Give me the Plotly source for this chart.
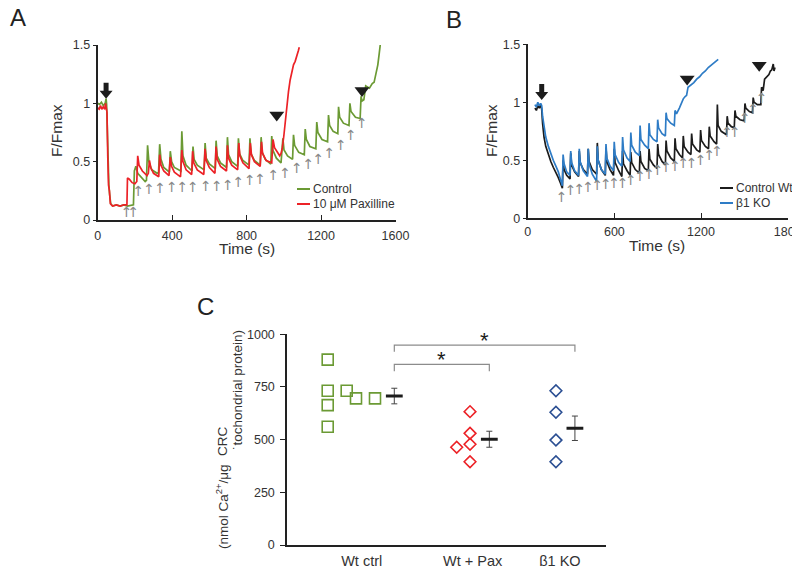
import plotly.graph_objects as go

# ---------------- DATA ----------------
# Panel A: Control (green) trace
A_CTRL_T = [0, 10, 20, 30, 40, 45, 48, 52, 57, 60, 64, 70, 80, 100, 120, 140, 160, 185, 192,
            197, 205, 215, 235, 255, 262,
            268, 275, 290, 320, 327, 333, 340, 355, 385, 390, 397, 412, 447,
            452, 458, 475, 507, 512, 518, 535, 572, 577, 583, 600, 632,
            636, 642, 660, 692, 697, 703, 720, 752, 756, 762, 780, 813,
            818, 824, 842, 873, 878, 884, 900, 930, 935, 941, 960, 985,
            995, 1001, 1020, 1047, 1052, 1058, 1080, 1110, 1115, 1121, 1140, 1172,
            1177, 1183, 1205, 1235, 1240, 1246, 1265, 1290, 1294, 1300, 1320, 1350,
            1355, 1361, 1385, 1410, 1415, 1420, 1430, 1435, 1440, 1460, 1475, 1485,
            1495, 1505, 1512, 1518]
A_CTRL_V = [1.00, 0.99, 1.01, 0.98, 1.00, 1.04, 0.99, 0.75, 0.35, 0.30, 0.22, 0.14, 0.12, 0.13, 0.12, 0.13, 0.12, 0.13, 0.13,
            0.42, 0.46, 0.40, 0.36, 0.33, 0.34,
            0.64, 0.50, 0.43, 0.40, 0.41, 0.65, 0.52, 0.45, 0.41, 0.59, 0.50, 0.45, 0.42,
            0.76, 0.55, 0.47, 0.42, 0.63, 0.52, 0.47, 0.43, 0.66, 0.53, 0.48, 0.44,
            0.68, 0.55, 0.49, 0.45, 0.71, 0.56, 0.50, 0.46, 0.70, 0.57, 0.51, 0.47,
            0.70, 0.57, 0.51, 0.47, 0.71, 0.58, 0.52, 0.48, 0.72, 0.60, 0.53, 0.49,
            0.70, 0.60, 0.55, 0.52, 0.73, 0.64, 0.58, 0.56, 0.78, 0.69, 0.63, 0.61,
            0.84, 0.75, 0.69, 0.67, 0.90, 0.81, 0.76, 0.74, 0.97, 0.88, 0.83, 0.81,
            1.00, 0.93, 0.88, 0.87, 1.06, 1.02, 1.03, 1.10, 1.15, 1.13, 1.17, 1.18,
            1.25, 1.33, 1.42, 1.50]

# Panel A: 10 uM Paxilline (red) trace
A_PAX_T = [0, 8, 15, 22, 30, 38, 42, 46, 50, 54, 58, 63, 68, 80, 100, 120, 140, 157,
           160, 170, 185, 200, 210,
           215, 222, 240, 265, 272, 278, 285, 300, 328, 333, 340, 355, 383,
           390, 397, 412, 445, 452, 458, 475, 505, 510, 516, 535, 570,
           577, 583, 600, 630, 636, 642, 660, 692, 697, 703, 720, 752,
           758, 764, 780, 813, 820, 826, 842, 873, 880, 886, 905, 935,
           942, 950, 965, 978, 985, 992, 1000, 1008, 1016, 1025, 1034, 1043,
           1052, 1061, 1070, 1078, 1083]
A_PAX_V = [0.96, 0.95, 0.98, 0.95, 0.97, 0.95, 1.00, 0.96, 0.92, 0.55, 0.30, 0.25, 0.14, 0.12, 0.13, 0.12, 0.13, 0.13,
           0.36, 0.35, 0.32, 0.31, 0.33,
           0.55, 0.47, 0.42, 0.38, 0.40, 0.51, 0.45, 0.40, 0.37, 0.56, 0.47, 0.42, 0.38,
           0.54, 0.46, 0.41, 0.37, 0.60, 0.50, 0.43, 0.39, 0.59, 0.49, 0.43, 0.39,
           0.61, 0.51, 0.45, 0.40, 0.63, 0.52, 0.46, 0.42, 0.64, 0.53, 0.47, 0.43,
           0.66, 0.55, 0.49, 0.44, 0.66, 0.56, 0.50, 0.46, 0.67, 0.57, 0.51, 0.49,
           0.69, 0.62, 0.58, 0.55, 0.57, 0.62, 0.72, 0.85, 0.98, 1.10, 1.20, 1.28,
           1.33, 1.36, 1.40, 1.45, 1.48]

A_ARROW_T = [156, 192, 218, 276, 335, 398, 455, 511, 581, 640, 699, 756, 818, 873, 944, 1007,
             1070, 1132, 1186, 1245, 1306, 1360, 1420]
A_ARROW_V = [0.06, 0.06, 0.24, 0.25, 0.26, 0.27, 0.27, 0.27, 0.28, 0.28, 0.29, 0.31, 0.33, 0.34, 0.37, 0.39,
             0.43, 0.47, 0.51, 0.56, 0.63, 0.72, 0.82]
A_TRI_T = [962, 1420]
A_TRI_V = [0.90, 1.11]
A_ADD_T = [45]
A_ADD_V = [1.04]

# Panel B: Control Wt (black) trace
B_WT_T = [50, 60, 70, 80, 90, 97, 103, 113, 125, 143, 160, 177, 195, 212, 228, 240,
          245, 252, 270, 293, 298, 304, 325, 352, 357, 363, 385, 414,
          419, 425, 447, 477, 482, 488, 510, 537, 542, 548, 570, 594,
          599, 605, 630, 652, 657, 663, 688, 709, 714, 720, 745, 773,
          778, 784, 810, 835, 840, 846, 870, 895, 900, 906, 930, 953,
          958, 964, 990, 1015, 1020, 1026, 1050, 1072, 1077, 1083, 1110, 1130,
          1135, 1141, 1170, 1192, 1197, 1203, 1230, 1252, 1257, 1263, 1290, 1308,
          1313, 1318, 1340, 1376, 1381, 1387, 1410, 1430, 1435, 1441, 1470, 1499,
          1504, 1510, 1535, 1556, 1561, 1567, 1590, 1614, 1619, 1630, 1640, 1655,
          1670, 1680, 1690, 1700, 1705, 1712]
B_WT_V = [0.95, 0.93, 0.97, 0.95, 0.98, 0.94, 0.82, 0.70, 0.62, 0.55, 0.49, 0.44, 0.40, 0.35, 0.30, 0.26,
          0.50, 0.42, 0.37, 0.34, 0.56, 0.46, 0.40, 0.36, 0.58, 0.48, 0.42, 0.38,
          0.60, 0.49, 0.42, 0.38, 0.65, 0.50, 0.42, 0.37, 0.61, 0.49, 0.42, 0.37,
          0.60, 0.48, 0.41, 0.36, 0.58, 0.47, 0.41, 0.37, 0.57, 0.48, 0.42, 0.39,
          0.58, 0.49, 0.43, 0.41, 0.60, 0.51, 0.46, 0.43, 0.64, 0.55, 0.49, 0.46,
          0.67, 0.58, 0.52, 0.49, 0.69, 0.60, 0.55, 0.52, 0.71, 0.62, 0.57, 0.55,
          0.73, 0.64, 0.59, 0.57, 0.76, 0.67, 0.62, 0.60, 0.79, 0.71, 0.66, 0.64,
          0.98, 0.80, 0.75, 0.72, 0.88, 0.82, 0.79, 0.78, 0.93, 0.88, 0.85, 0.84,
          0.99, 0.95, 0.92, 0.91, 1.04, 1.00, 0.98, 0.98, 1.13, 1.10, 1.20, 1.22,
          1.24, 1.27, 1.28, 1.33, 1.27, 1.30]

# Panel B: beta1 KO (blue) trace
B_KO_T = [50, 60, 70, 80, 90, 97, 103, 113, 125, 143, 160, 177, 195, 212, 228, 240,
          245, 252, 270, 293, 298, 304, 325, 352, 357, 363, 385, 414,
          419, 425, 447, 477, 482, 488, 510, 537, 542, 548, 570, 594,
          599, 605, 630, 652, 657, 663, 688, 709, 714, 720, 745, 773,
          778, 784, 810, 835, 840, 846, 870, 895, 900, 906, 930, 953,
          958, 964, 990, 1015, 1020, 1030, 1050, 1072, 1077, 1090, 1100, 1110,
          1130, 1150, 1170, 1190, 1210, 1230, 1250, 1270, 1290, 1305, 1319]
B_KO_V = [0.98, 0.96, 1.00, 0.97, 0.99, 0.97, 0.88, 0.78, 0.70, 0.62, 0.55, 0.50, 0.45, 0.40, 0.33, 0.28,
          0.55, 0.47, 0.40, 0.37, 0.58, 0.48, 0.41, 0.37, 0.60, 0.49, 0.41, 0.36,
          0.60, 0.47, 0.38, 0.32, 0.62, 0.50, 0.42, 0.38, 0.64, 0.52, 0.45, 0.41,
          0.66, 0.55, 0.48, 0.45, 0.70, 0.59, 0.52, 0.49, 0.74, 0.63, 0.57, 0.54,
          0.80, 0.68, 0.63, 0.60, 0.82, 0.72, 0.68, 0.66, 0.85, 0.78, 0.73, 0.71,
          0.91, 0.86, 0.82, 0.80, 0.93, 0.90, 0.95, 1.02, 1.03, 1.05, 1.06, 1.13,
          1.15, 1.17, 1.20, 1.22, 1.25, 1.27, 1.30, 1.32, 1.34, 1.35, 1.37]

B_ARROW_T = [235, 298, 357, 419, 482, 542, 599, 657, 714, 778, 840, 900, 958, 1020,
             1077, 1135, 1197, 1257, 1312, 1381, 1435, 1504, 1561, 1619]
B_ARROW_V = [0.17, 0.23, 0.24, 0.26, 0.27, 0.28, 0.29, 0.29, 0.32, 0.35, 0.37, 0.40, 0.43, 0.44,
             0.46, 0.46, 0.49, 0.53, 0.57, 0.73, 0.73, 0.85, 0.93, 1.02]
B_TRI_T = [1104, 1603]
B_TRI_V = [1.20, 1.32]
B_ADD_T = [97]
B_ADD_V = [1.02]

# Panel C: CRC dot plot
C_GROUPS = ["Wt ctrl", "Wt + Pax", "β1 KO"]
C_GROUP_POS = [1.0, 2.0, 2.786]
C_WT_VALUES = [880, 732, 664, 561, 732, 696, 696]
C_WT_OFFSET = [-0.306, -0.306, -0.306, -0.306, -0.135, -0.051, 0.120]
C_PAX_VALUES = [464, 633, 530, 478, 395]
C_PAX_OFFSET = [-0.144, -0.024, -0.024, -0.024, -0.024]
C_KO_VALUES = [732, 630, 498, 395]
C_KO_OFFSET = [-0.036, -0.036, -0.036, -0.036]
C_MEANS = [707, 502, 554]
C_SEM = [37, 38, 58]
C_MEAN_OFFSET = [0.294, 0.150, 0.135]
C_SIG_PAIRS = [(0, 1), (0, 2)]
C_SIG_Y = [857, 949]
C_YTICKS = [0, 250, 500, 750, 1000]

# ---------------- STYLE ----------------
GREEN = "#6b9a34"
RED = "#ec2227"
BLACK = "#1c1c1c"
BLUE = "#2e7cc6"
NAVY = "#2b4f93"
GRAY = "#8a8a8a"
FONT = "Liberation Sans, Arial, sans-serif"
TXT = "#333333"
LW = 1.7

W, H = 800, 566
PAGE = 8  # the page body margin shifts the figure; compensate in layout


def fx(x):
    return (x - PAGE) / W


def fy(y):
    return 1 - (y - PAGE) / H


fig = go.Figure()

# Panel A
fig.add_trace(go.Scatter(x=A_CTRL_T, y=A_CTRL_V, mode="lines", line=dict(color=GREEN, width=LW),
                         xaxis="x", yaxis="y", showlegend=False))
fig.add_trace(go.Scatter(x=A_PAX_T, y=A_PAX_V, mode="lines", line=dict(color=RED, width=LW),
                         xaxis="x", yaxis="y", showlegend=False))
fig.add_trace(go.Scatter(x=A_ARROW_T, y=A_ARROW_V, mode="text", text=["↑"] * len(A_ARROW_T),
                         textfont=dict(color=GRAY, size=14, family="DejaVu Sans"),
                         xaxis="x", yaxis="y", showlegend=False))
fig.add_trace(go.Scatter(x=A_TRI_T, y=A_TRI_V, mode="markers",
                         marker=dict(symbol="triangle-down", size=13, color=BLACK),
                         xaxis="x", yaxis="y", showlegend=False))

# Panel B
fig.add_trace(go.Scatter(x=B_WT_T, y=B_WT_V, mode="lines", line=dict(color=BLACK, width=LW),
                         xaxis="x2", yaxis="y2", showlegend=False))
fig.add_trace(go.Scatter(x=B_KO_T, y=B_KO_V, mode="lines", line=dict(color=BLUE, width=LW),
                         xaxis="x2", yaxis="y2", showlegend=False))
fig.add_trace(go.Scatter(x=B_ARROW_T, y=B_ARROW_V, mode="text", text=["↑"] * len(B_ARROW_T),
                         textfont=dict(color=GRAY, size=14, family="DejaVu Sans"),
                         xaxis="x2", yaxis="y2", showlegend=False))
fig.add_trace(go.Scatter(x=B_TRI_T, y=B_TRI_V, mode="markers",
                         marker=dict(symbol="triangle-down", size=13, color=BLACK),
                         xaxis="x2", yaxis="y2", showlegend=False))

# Panel C
def xs(gi, offs):
    return [C_GROUP_POS[gi] + o for o in offs]

fig.add_trace(go.Scatter(x=xs(0, C_WT_OFFSET), y=C_WT_VALUES, mode="markers",
                         marker=dict(symbol="square-open", size=11, color=GREEN, line=dict(width=1.6)),
                         xaxis="x3", yaxis="y3", showlegend=False))
fig.add_trace(go.Scatter(x=xs(1, C_PAX_OFFSET), y=C_PAX_VALUES, mode="markers",
                         marker=dict(symbol="diamond-open", size=9, color=RED, line=dict(width=1.6)),
                         xaxis="x3", yaxis="y3", showlegend=False))
fig.add_trace(go.Scatter(x=xs(2, C_KO_OFFSET), y=C_KO_VALUES, mode="markers",
                         marker=dict(symbol="diamond-open", size=9, color=NAVY, line=dict(width=1.6)),
                         xaxis="x3", yaxis="y3", showlegend=False))
mean_x = [C_GROUP_POS[i] + C_MEAN_OFFSET[i] for i in range(3)]
fig.add_trace(go.Scatter(x=mean_x, y=C_MEANS, mode="markers",
                         marker=dict(symbol="line-ew", size=12, color=BLACK, line=dict(width=3, color=BLACK)),
                         error_y=dict(type="data", array=C_SEM, color="#444444", thickness=1, width=3),
                         xaxis="x3", yaxis="y3", showlegend=False))

shapes = []
annotations = []
for (i, j), yb in zip(C_SIG_PAIRS, C_SIG_Y):
    x0, x1 = mean_x[i], mean_x[j]
    shapes.append(dict(type="path", xref="x3", yref="y3",
                       path=f"M {x0},{yb-32} L {x0},{yb} L {x1},{yb} L {x1},{yb-32}",
                       line=dict(color="#8c8c8c", width=1.2)))
    annotations.append(dict(x=(x0 + x1) / 2, y=yb, xref="x3", yref="y3", text="*", showarrow=False,
                            yanchor="bottom", yshift=-10, font=dict(size=22, color=BLACK, family=FONT)))

# addition arrows (thick black block arrows), drawn in pixel size around a data anchor
ARROW_PATH = "M 0,0 L -6.5,8 L -2.5,8 L -2.5,16 L 2.5,16 L 2.5,8 L 6.5,8 Z"
for ax_id, ts, vs in (("", A_ADD_T, A_ADD_V), ("2", B_ADD_T, B_ADD_V)):
    for t, v in zip(ts, vs):
        shapes.append(dict(type="path", xref="x" + ax_id, yref="y" + ax_id,
                           xsizemode="pixel", ysizemode="pixel", xanchor=t, yanchor=v,
                           path=ARROW_PATH, fillcolor=BLACK, line=dict(width=0)))


def px(x, y, text, size=16, angle=0, xanchor="center", color=TXT):
    annotations.append(dict(x=max(fx(x), 0), y=fy(y), xref="paper", yref="paper", text=text,
                            showarrow=False, textangle=angle, xanchor=xanchor, yanchor="middle",
                            font=dict(size=size, color=color, family=FONT)))


# panel letters
px(8, 17, "A", size=24, xanchor="left", color="#222222")
px(454, 19, "B", size=24, color="#222222")
px(205, 306, "C", size=24, color="#222222")
# axis titles
px(56, 131, "F/Fmax", size=15.5, angle=-90)
px(491, 131, "F/Fmax", size=15.5, angle=-90)
px(247, 249, "Time (s)", size=15.5)
px(657, 245, "Time (s)", size=15.5)
px(222, 442, "CRC", size=13.5, angle=-90)
px(222, 507, "(nmol Ca<sup>2+</sup>/μg", size=13.5, angle=-90)
px(237, 390, "˙tochondrial protein)", size=13.5, angle=-90)


# legends
def leg(x0, y, color, text):
    shapes.append(dict(type="line", xref="paper", yref="paper", x0=fx(x0), x1=fx(x0 + 13),
                       y0=fy(y), y1=fy(y), line=dict(color=color, width=2)))
    px(x0 + 14, y, text, size=12, xanchor="left")


leg(297, 189, GREEN, "Control")
leg(297, 204, RED, "10 μM Paxilline")
leg(720, 188, BLACK, "Control Wt")
leg(720, 203, BLUE, "β1 KO")

axis_common = dict(showline=True, linecolor="#222222", linewidth=2, showgrid=False, zeroline=False,
                   tickfont=dict(size=12.5, color=TXT, family=FONT), tickcolor="#222222")

fig.update_layout(
    width=W, height=H, margin=dict(l=0, r=0, t=0, b=0, autoexpand=False),
    paper_bgcolor="white", plot_bgcolor="white", showlegend=False,
    xaxis=dict(domain=[fx(97.7), fx(395.5)], range=[0, 1600], tickvals=[0, 400, 800, 1200, 1600],
               ticks="inside", ticklen=5, anchor="y", ticklabelstandoff=3, **axis_common),
    yaxis=dict(domain=[fy(220), fy(45)], range=[0, 1.5], tickvals=[0, 0.5, 1, 1.5],
               ticks="outside", ticklen=3, anchor="x", **axis_common),
    xaxis2=dict(domain=[fx(527.7), fx(787.7)], range=[0, 1800], tickvals=[0, 600, 1200, 1800],
                ticks="inside", ticklen=5, anchor="y2", ticklabelstandoff=1, **axis_common),
    yaxis2=dict(domain=[fy(218.3), fy(44.3)], range=[0, 1.5], tickvals=[0, 0.5, 1, 1.5],
                ticks="outside", ticklen=3, anchor="x2", **axis_common),
    xaxis3=dict(domain=[fx(287.3), fx(606)], range=[0.330, 3.201], tickvals=C_GROUP_POS,
                ticktext=C_GROUPS, ticks="", anchor="y3", ticklabelstandoff=2, **axis_common),
    yaxis3=dict(domain=[fy(545), fy(334.3)], range=[0, 1000], tickvals=C_YTICKS,
                ticks="outside", ticklen=5, anchor="x3", ticklabelstandoff=3, **axis_common),
    shapes=shapes, annotations=annotations,
)
fig.update_xaxes(selector=dict(anchor="y3"), tickfont=dict(size=14.5, color=TXT, family=FONT))

fig.write_html("out.html")
